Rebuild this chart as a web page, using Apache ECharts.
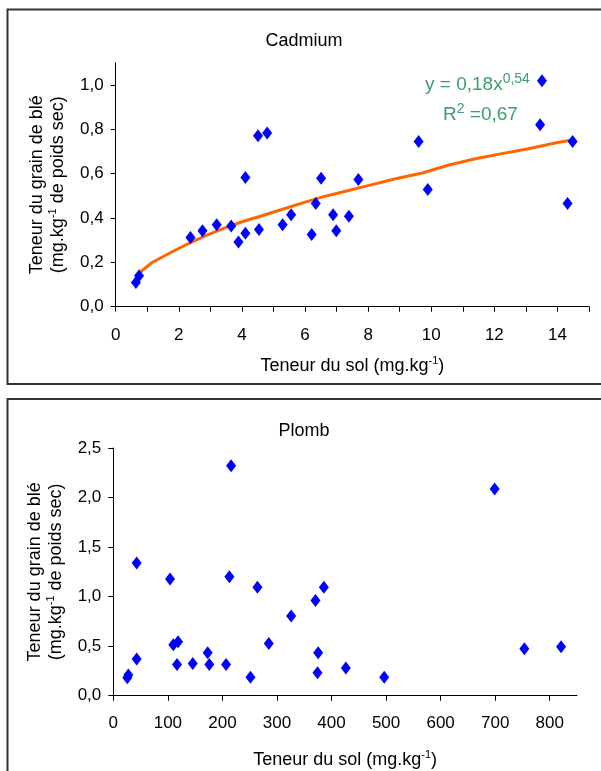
<!DOCTYPE html>
<html>
<head>
<meta charset="utf-8">
<script src="https://cdn.jsdelivr.net/npm/echarts@6/dist/echarts.min.js"></script>
<style>
html,body{margin:0;padding:0;background:#fff;}
#chart{width:601px;height:771px;}
</style>
</head>
<body>
<div id="chart"></div>
<script>
// ---- Cadmium data (soil mg/kg, grain mg/kg) ----
var cdSoil  = [0.64,0.74,2.37,2.75,3.20,3.66,3.89,4.11,4.11,4.51,4.54,4.80,5.29,5.56,6.21,6.34,6.51,6.89,6.99,7.39,7.69,9.60,9.89,13.45,13.51,14.32,14.48];
var cdGrain = [0.109,0.139,0.312,0.342,0.370,0.364,0.292,0.582,0.331,0.771,0.348,0.783,0.370,0.415,0.325,0.465,0.579,0.415,0.342,0.408,0.574,0.745,0.528,0.820,1.019,0.465,0.745];
// trend line points
var cdTrendX = [0.66,1.14,1.82,2.35,2.87,3.40,3.98,4.66,5.19,5.93,6.56,7.19,8.03,8.87,9.72,10.56,11.40,12.24,13.08,13.93,14.48];
var cdTrendY = [0.142,0.198,0.250,0.288,0.322,0.352,0.382,0.411,0.435,0.468,0.495,0.517,0.547,0.577,0.603,0.639,0.667,0.690,0.712,0.738,0.753];
// ---- Plomb data ----
var pbSoil  = [25.7,27.5,42.8,42.8,104,110,118.7,116.8,145.6,173,176,206.7,212.8,215.9,251.4,264.2,285,326,370.6,375.5,374.3,386,426.3,496.6,699,753.5,820.8];
var pbGrain = [0.182,0.209,1.339,0.370,1.178,0.515,0.545,0.316,0.326,0.434,0.316,0.316,1.201,2.322,0.185,1.094,0.528,0.804,0.962,0.434,0.232,1.094,0.279,0.185,2.086,0.474,0.495];
// ---- ticks ----
var cdXTicks = [0,1,2,3,4,5,6,7,8,9,10,11,12,13,14,15];
var cdXLabels = [0,2,4,6,8,10,12,14];
var cdYTicks = [0,0.2,0.4,0.6,0.8,1.0];
var pbXTicks = [0,100,200,300,400,500,600,700,800];
var pbYTicks = [0,0.5,1.0,1.5,2.0,2.5];
// ---- texts ----
var titleCd = 'Cadmium';
var titlePb = 'Plomb';
var xName = 'Teneur du sol (mg.kg{sup|-1})';
var yName = 'Teneur du grain de blé\n(mg.kg{sup|-1} de poids sec)';
var eq1 = 'y = 0,18x{sup|0,54}';
var eq2 = 'R{sup|2} =0,67';

var FONT = "'Liberation Sans', Arial, sans-serif";
function pair(a,b){return a.map(function(v,i){return [v,b[i]];});}
function comma1(v){return v.toFixed(1).replace('.',',');}
function supRich(){return {sup:{fontSize:11, fontFamily:FONT, color:'#000', verticalAlign:'top', lineHeight:11}};}

function xAxisCfg(idx,max,ticks,labels,margin,gap){
  return {gridIndex:idx,type:'value',min:0,max:max,
    axisLine:{show:true,onZero:false,lineStyle:{color:'#000',width:1}},
    axisTick:{show:true,length:5,inside:false,customValues:ticks,lineStyle:{color:'#000'}},
    axisLabel:{customValues:labels,color:'#000',fontSize:17,fontFamily:FONT,margin:margin,formatter:function(v){return String(v);}},
    splitLine:{show:false},
    name:xName,nameLocation:'middle',nameGap:gap,
    nameTextStyle:{fontSize:18,fontFamily:FONT,color:'#000',lineHeight:20,rich:supRich()}};
}
function yAxisCfg(idx,max,ticks,gap){
  return {gridIndex:idx,type:'value',min:0,max:max,
    axisLine:{show:true,onZero:false,lineStyle:{color:'#000',width:1}},
    axisTick:{show:true,length:5,inside:false,customValues:ticks,lineStyle:{color:'#000'}},
    axisLabel:{customValues:ticks,color:'#000',fontSize:17,fontFamily:FONT,margin:12,formatter:function(v){return comma1(v);}},
    splitLine:{show:false},
    name:yName,nameLocation:'middle',nameGap:gap,nameRotate:90,
    nameTextStyle:{fontSize:18,fontFamily:FONT,color:'#000',lineHeight:21,align:'center',rich:supRich()}};
}

var eqRich = {sup:{fontSize:14,fontFamily:FONT,color:'#3C9F6B',verticalAlign:'top',lineHeight:12}};

var chart = echarts.init(document.getElementById('chart'), null, {renderer:'canvas'});
chart.setOption({
  animation:false,
  backgroundColor:'#fff',
  grid:[
    {left:115.7, right:12, top:62.7, height:244, containLabel:false},
    {left:113.3, right:24, top:448, height:247.7, containLabel:false}
  ],
  xAxis:[
    xAxisCfg(0,15,cdXTicks,cdXLabels,20,49),
    xAxisCfg(1,850,pbXTicks,pbXTicks,19,54)
  ],
  yAxis:[
    yAxisCfg(0,1.1,cdYTicks,47),
    yAxisCfg(1,2.5,pbYTicks,42)
  ],
  graphic:[
    {type:'rect',shape:{x:7.5,y:9.5,width:700,height:374.5},style:{fill:'none',stroke:'#333',lineWidth:2},z:100},
    {type:'rect',shape:{x:7.5,y:399,width:700,height:500},style:{fill:'none',stroke:'#333',lineWidth:2},z:100},
    {type:'text',x:304,y:41,style:{text:titleCd,font:'18px '+FONT,fill:'#000',align:'center',verticalAlign:'middle',textAlign:'center',textVerticalAlign:'middle'}},
    {type:'text',x:304,y:431,style:{text:titlePb,font:'18px '+FONT,fill:'#000',align:'center',verticalAlign:'middle',textAlign:'center',textVerticalAlign:'middle'}},
    {type:'text',x:425,y:72,style:{text:eq1,fontSize:19,fontFamily:FONT,fill:'#3C9F6B',lineHeight:26,rich:eqRich}},
    {type:'text',x:443,y:102,style:{text:eq2,fontSize:19,fontFamily:FONT,fill:'#3C9F6B',lineHeight:26,rich:eqRich}}
  ],
  series:[
    {type:'line',xAxisIndex:0,yAxisIndex:0,data:pair(cdTrendX,cdTrendY),showSymbol:false,symbol:'none',
      lineStyle:{color:'#FF6600',width:3},z:2},
    {type:'scatter',xAxisIndex:0,yAxisIndex:0,data:pair(cdSoil,cdGrain),symbol:'diamond',symbolSize:[10,13],
      itemStyle:{color:'#0000FF',opacity:1},z:3},
    {type:'scatter',xAxisIndex:1,yAxisIndex:1,data:pair(pbSoil,pbGrain),symbol:'diamond',symbolSize:[10,13],
      itemStyle:{color:'#0000FF',opacity:1},z:3}
  ]
});
</script>
</body>
</html>
